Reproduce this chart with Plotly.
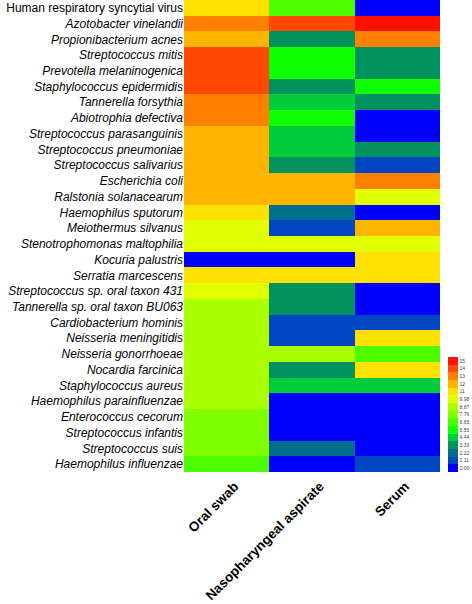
import plotly.graph_objects as go

organisms = [
    "Human respiratory syncytial virus",
    "Azotobacter vinelandii",
    "Propionibacterium acnes",
    "Streptococcus mitis",
    "Prevotella melaninogenica",
    "Staphylococcus epidermidis",
    "Tannerella forsythia",
    "Abiotrophia defectiva",
    "Streptococcus parasanguinis",
    "Streptococcus pneumoniae",
    "Streptococcus salivarius",
    "Escherichia coli",
    "Ralstonia solanacearum",
    "Haemophilus sputorum",
    "Meiothermus silvanus",
    "Stenotrophomonas maltophilia",
    "Kocuria palustris",
    "Serratia marcescens",
    "Streptococcus sp. oral taxon 431",
    "Tannerella sp. oral taxon BU063",
    "Cardiobacterium hominis",
    "Neisseria meningitidis",
    "Neisseria gonorrhoeae",
    "Nocardia farcinica",
    "Staphylococcus aureus",
    "Haemophilus parainfluenzae",
    "Enterococcus cecorum",
    "Streptococcus infantis",
    "Streptococcus suis",
    "Haemophilus influenzae",
]

samples = ["Oral swab", "Nasopharyngeal aspirate", "Serum"]

# level index (0..14) of each cell
oral_swab = [10, 12, 11, 13, 13, 13, 12, 12, 11, 11, 11, 11, 11, 10, 9, 9, 0, 10, 9, 8,
             8, 8, 8, 8, 8, 8, 7, 7, 7, 6]
nasopharyngeal = [6, 13, 3, 5, 5, 3, 4, 5, 4, 4, 3, 11, 11, 2, 1, 9, 0, 10, 3, 3,
                  1, 1, 8, 3, 4, 0, 0, 0, 2, 0]
serum = [0, 14, 12, 3, 3, 5, 3, 0, 0, 3, 1, 12, 9, 0, 11, 9, 10, 10, 0, 0,
         1, 10, 6, 10, 4, 0, 0, 0, 0, 1]

legend_labels = ["0.00", "1.11", "2.22", "3.33", "4.44", "5.55", "6.65", "7.76",
                 "8.87", "9.98", "11", "12", "13", "14", "15"]
level_colors = ["#0000FF", "#0046C0", "#006E8C", "#00925F", "#00CC3C", "#10FF00",
                "#4CFF00", "#7FFF00", "#AAFF00", "#E1FF00", "#FFE100", "#FFB400",
                "#FF7F00", "#FF4800", "#FF1100"]

step = 1.109
n = len(level_colors)
colorscale = []
for i, c in enumerate(level_colors):
    colorscale.append([i / n, c])
    colorscale.append([(i + 1) / n, c])

z = [[(o + 0.5) * step, (na + 0.5) * step, (s + 0.5) * step]
     for o, na, s in zip(oral_swab, nasopharyngeal, serum)]

ytext = [organisms[0]] + ["<i>" + name + "</i>" for name in organisms[1:]]

fig = go.Figure(go.Heatmap(
    z=z,
    x=list(range(len(samples))),
    y=list(range(len(organisms))),
    colorscale=colorscale,
    zmin=0, zmax=n * step,
    xgap=0, ygap=0,
    colorbar=dict(
        tickvals=[(i + 0.5) * step for i in range(n)],
        ticktext=legend_labels,
        tickfont=dict(family="Liberation Sans", size=5, color="#444444"),
        thickness=10,
        thicknessmode="pixels",
        len=115,
        lenmode="pixels",
        x=1.03,
        xanchor="left",
        y=0,
        yanchor="bottom",
        outlinewidth=0,
        ticks="",
        xpad=0,
        ypad=0,
    ),
))

fig.update_layout(
    width=472,
    height=604,
    margin=dict(l=184, r=32, t=0, b=132),
    paper_bgcolor="white",
    plot_bgcolor="white",
    font=dict(family="Liberation Sans", color="black"),
)

fig.update_xaxes(
    tickvals=list(range(len(samples))),
    ticktext=samples,
    tickangle=-45,
    tickfont=dict(family="Liberation Sans", size=13.5, color="black", weight="bold"),
    ticklabelstandoff=3,
    ticklabelshift=8,
    showgrid=False, zeroline=False, showline=False, ticks="",
    automargin=False,
    range=[-0.5, 2.5],
)

fig.update_yaxes(
    tickvals=list(range(len(organisms))),
    ticktext=ytext,
    tickfont=dict(family="Liberation Sans", size=12, color="black"),
    showgrid=False, zeroline=False, showline=False, ticks="",
    automargin=False,
    range=[len(organisms) - 0.5, -0.5],
)

fig.write_html(
    "out.html",
    config={"displayModeBar": False},
    post_script="document.body.style.margin='0px';document.body.style.overflow='hidden';",
)
